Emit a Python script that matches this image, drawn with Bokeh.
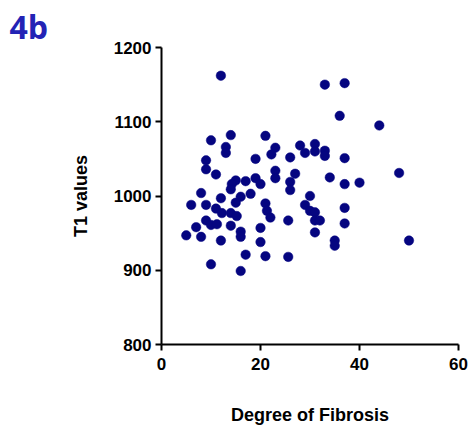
from bokeh.plotting import figure
from bokeh.models import FixedTicker, Range1d
from bokeh.embed import file_html
from bokeh.resources import INLINE

# Degree of fibrosis (%) and T1 values (ms) for each subject
fibrosis = [
    12, 10, 14, 13, 13, 21, 23, 22.2, 9, 9,
    11, 19, 23, 23, 26, 15, 17, 19, 20, 14.2,
    14, 8, 12, 16, 18, 6, 9, 15, 11, 12.2,
    14, 15.2, 9, 10, 11.2, 7, 5, 8, 12, 14,
    16, 16, 17, 10, 16, 20, 20, 21, 21, 21.3,
    22, 25.6, 25.6, 26, 26, 33, 37, 36, 44, 28,
    29, 31, 31, 33, 33, 37, 27, 34, 37, 40,
    48, 30, 29, 30, 31, 31, 32, 37, 37, 31,
    35, 35, 50,
]
t1_values = [
    1162, 1075, 1082, 1066, 1058, 1081, 1065, 1056, 1048, 1036,
    1029, 1050, 1034, 1024, 1052, 1021, 1020, 1024, 1016, 1016,
    1009, 1004, 997, 999, 1003, 988, 988, 991, 983, 977,
    977, 973, 967, 961, 962, 958, 947, 945, 940, 960,
    952, 945, 921, 908, 899, 957, 938, 919, 990, 980,
    971, 967, 918, 1019, 1008, 1150, 1152, 1108, 1095, 1068,
    1058, 1070, 1060, 1061, 1054, 1051, 1030, 1025, 1016, 1018,
    1031, 1000, 988, 980, 978, 967, 967, 984, 963, 951,
    940, 933, 940,
]

x_ticks = [0, 20, 40, 60]
y_ticks = [800, 900, 1000, 1100, 1200]

FONT = "Liberation Sans"

p = figure(
    width=471, height=431,
    output_backend="svg", toolbar_location=None,
    x_range=Range1d(0, 60), y_range=Range1d(800, 1200),
    min_border_left=161, min_border_right=13,
    min_border_top=47, min_border_bottom=87,
    title="4b",
)
p.outline_line_color = None
p.background_fill_color = "white"
p.border_fill_color = "white"
p.grid.visible = False

p.title.text_font = "Open Sans"
p.title.text_font_style = "bold"
p.title.text_font_size = "32px"
p.title.text_color = "#2323b5"
p.title.align = "left"
p.title.offset = -152
p.title.standoff = 0

p.scatter(fibrosis, t1_values, size=9.5, fill_color="#050580",
          line_color="#050580", line_width=0.5)

for ax, ticks, label in ((p.xaxis, x_ticks, "Degree of Fibrosis"),
                         (p.yaxis, y_ticks, "T1 values")):
    ax.ticker = FixedTicker(ticks=ticks)
    ax.axis_label = label
    ax.axis_label_text_font = FONT
    ax.axis_label_text_font_style = "bold"
    ax.axis_label_text_font_size = "18px"
    ax.axis_label_text_color = "black"
    ax.major_label_text_font = FONT
    ax.major_label_text_font_style = "bold"
    ax.major_label_text_font_size = "17px"
    ax.major_label_text_color = "black"
    ax.axis_line_width = 2
    ax.axis_line_color = "black"
    ax.major_tick_line_width = 2
    ax.major_tick_line_color = "black"
    ax.major_tick_out = 6
    ax.major_tick_in = 0
    ax.minor_tick_line_color = None

p.xaxis.major_label_standoff = 7
p.xaxis.axis_label_standoff = 32
p.yaxis.major_label_standoff = 4
p.yaxis.axis_label_standoff = 20

open("out.html", "w").write(file_html(p, INLINE))
